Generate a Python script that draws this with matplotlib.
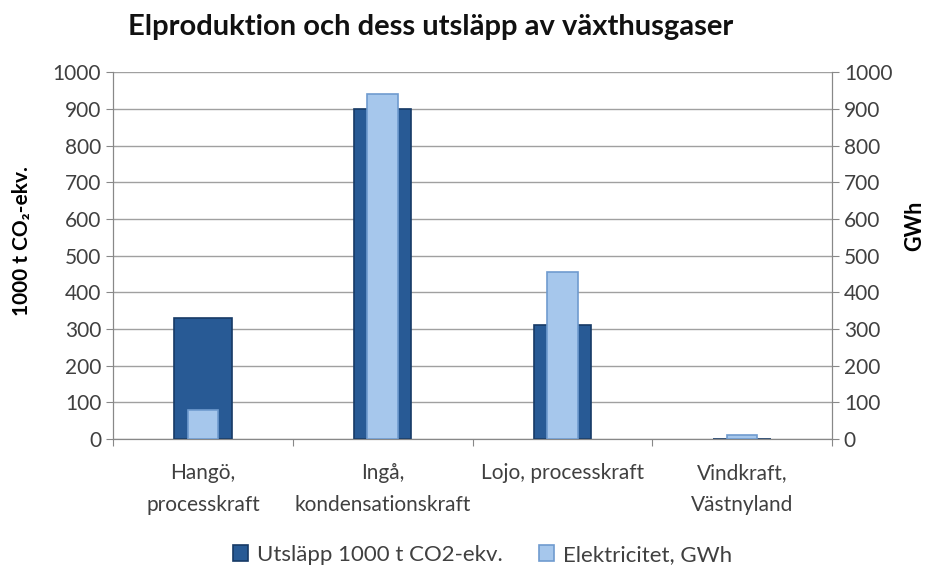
import numpy as np
import matplotlib.pyplot as plt

plt.rcParams['font.family'] = ['Lato', 'DejaVu Sans']

categories = ['Hangö,\nprocesskraft', 'Ingå,\nkondensationskraft', 'Lojo, processkraft', 'Vindkraft,\nVästnyland']
utslapp = [330, 900, 310, 0]        # 1000 t CO2-ekv.
elektricitet = [80, 940, 455, 10]   # GWh

fig = plt.figure(figsize=(9.37, 5.68), dpi=100)
ax = fig.add_axes([0.1206, 0.2271, 0.7674, 0.6459])
ax2 = ax.twinx()

x = np.arange(len(categories))
b1 = ax.bar(x, utslapp, width=0.32, color='#285A95', edgecolor='#163A66', linewidth=1.2,
            label='Utsläpp 1000 t CO2-ekv.', zorder=3)
b2 = ax2.bar(x, elektricitet, width=0.17, color='#A6C7EC', edgecolor='#6F9BCF', linewidth=1.2,
             label='Elektricitet, GWh', zorder=3)

for a in (ax, ax2):
    a.set_ylim(0, 1000)
    a.set_yticks(range(0, 1001, 100))
    a.tick_params(axis='y', labelsize=15, colors='#404040', length=5, color='#888888')
ax.set_xlim(-0.5, len(categories) - 0.5)
ax.yaxis.grid(True, color='#A0A0A0', linewidth=1)
ax.set_axisbelow(True)

ax.set_xticks(np.arange(len(categories) + 1) - 0.5)
ax.set_xticklabels([])
ax.set_xticks(x, minor=True)
ax.set_xticklabels(categories, minor=True, fontsize=15, color='#404040', linespacing=1.75)
ax.tick_params(axis='x', which='major', length=5, color='#888888')
ax.tick_params(axis='x', which='minor', length=0, pad=17)

for a in (ax, ax2):
    for s in a.spines.values():
        s.set_color('#888888')
    a.spines['top'].set_visible(False)

ax.set_ylabel('1000 t CO₂-ekv.', fontsize=15, fontweight='bold')
ax.yaxis.set_label_coords(-0.113, 0.54)
ax2.set_ylabel('GWh', fontsize=15.5, fontweight='bold')
ax2.yaxis.set_label_coords(1.1, 0.58)

fig.suptitle('Elproduktion och dess utsläpp av växthusgaser', x=0.46, y=0.975,
             fontsize=21, fontweight='bold', color='#111111')

fig.legend(handles=[b1, b2], loc='lower center', bbox_to_anchor=(0.515, -0.03), ncol=2,
           frameon=False, fontsize=16, handlelength=0.7, handleheight=0.7,
           columnspacing=1.6, handletextpad=0.4, labelcolor='#404040')

fig.savefig('out.png', dpi=100)
